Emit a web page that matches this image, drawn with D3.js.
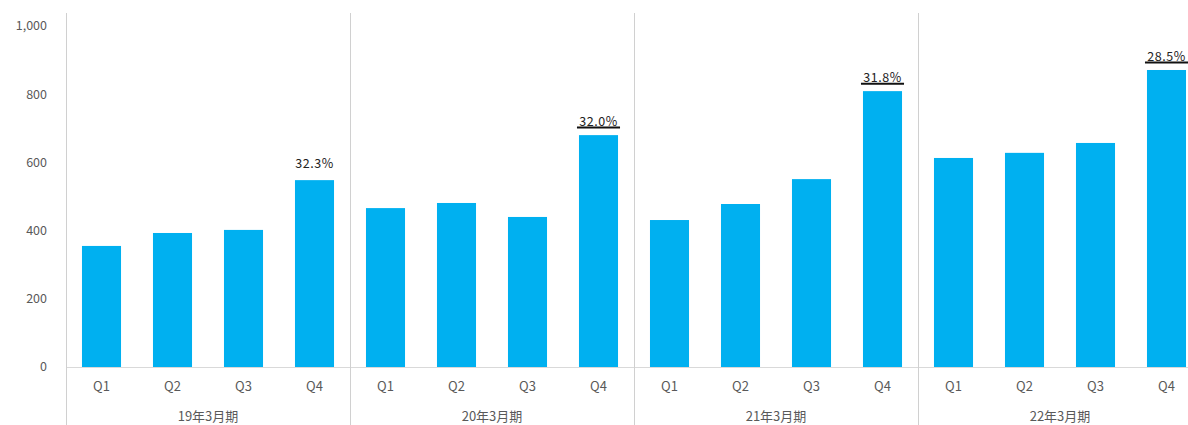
<!DOCTYPE html>
<html>
<head>
<meta charset="utf-8">
<script src="https://cdn.jsdelivr.net/npm/d3@7"></script>
<style>
  body { margin: 0; background: #fff; }
  svg { display: block; font-family: "Noto Sans CJK JP", "Noto Sans", sans-serif; }
</style>
</head>
<body>
<div id="chart"></div>
<script>
// fiscal periods and quarters
const periods = ['19年3月期', '20年3月期', '21年3月期', '22年3月期'];
const quarters = ['Q1', 'Q2', 'Q3', 'Q4'];
// quarterly values, one array per period
const fy19 = [355, 393, 402, 548];
const fy20 = [466, 481, 440, 680];
const fy21 = [431, 478, 551, 809];
const fy22 = [613, 628, 657, 871];
// ratio shown above each Q4 bar
const q4Labels = ['32.3%', '32.0%', '31.8%', '28.5%'];
const q4Underline = [false, true, true, true];
const yTicks = [0, 200, 400, 600, 800, 1000];

const seriesByPeriod = [fy19, fy20, fy21, fy22];

const width = 1188, height = 425;
const plotLeft = 66, plotRight = 1202, plotTop = 13, zeroY = 367;

const svg = d3.select('#chart').append('svg')
    .attr('width', width)
    .attr('height', height);

const x0 = d3.scaleBand().domain(periods).range([plotLeft, plotRight]);
const x1 = d3.scaleBand().domain(quarters).range([0, x0.bandwidth()]).paddingInner(0.45).paddingOuter(0.225);
const y = d3.scaleLinear().domain([0, 1000]).range([zeroY, 26]);

// y axis labels
svg.append('g')
    .selectAll('text')
    .data(yTicks)
    .enter().append('text')
    .attr('x', 47)
    .attr('y', d => y(d))
    .attr('dy', '0.35em')
    .attr('text-anchor', 'end')
    .attr('font-size', 12.5)
    .attr('fill', '#595959')
    .text(d => d3.format(',')(d));

// baseline
svg.append('line')
    .attr('x1', plotLeft).attr('x2', width)
    .attr('y1', zeroY + 0.5).attr('y2', zeroY + 0.5)
    .attr('stroke', '#d9d9d9');

// vertical separators
svg.append('g')
    .selectAll('line')
    .data(periods)
    .enter().append('line')
    .attr('x1', d => Math.round(x0(d)) + 0.5)
    .attr('x2', d => Math.round(x0(d)) + 0.5)
    .attr('y1', plotTop)
    .attr('y2', height)
    .attr('stroke', '#d0d0d0');

const groups = svg.append('g')
    .selectAll('g')
    .data(periods)
    .enter().append('g')
    .attr('transform', d => `translate(${x0(d)},0)`);

groups.selectAll('rect')
    .data((d, i) => seriesByPeriod[i].map((v, j) => ({ q: quarters[j], v: v })))
    .enter().append('rect')
    .attr('x', d => x1(d.q))
    .attr('width', x1.bandwidth())
    .attr('y', d => y(d.v))
    .attr('height', d => zeroY - y(d.v))
    .attr('fill', '#00b0f0');

// quarter labels
groups.selectAll('text.q')
    .data(quarters)
    .enter().append('text')
    .attr('class', 'q')
    .attr('x', d => x1(d) + x1.bandwidth() / 2)
    .attr('y', 386)
    .attr('dy', '0.35em')
    .attr('text-anchor', 'middle')
    .attr('font-size', 13)
    .attr('fill', '#595959')
    .text(d => d);

// period labels
groups.append('text')
    .attr('x', x0.bandwidth() / 2)
    .attr('y', 416)
    .attr('dy', '0.35em')
    .attr('text-anchor', 'middle')
    .attr('font-size', 13)
    .attr('fill', '#595959')
    .text(d => d);

// Q4 ratio labels
groups.each(function(d, i) {
    const g = d3.select(this);
    const v = seriesByPeriod[i][3];
    const cx = x1('Q4') + x1.bandwidth() / 2;
    const ty = y(v) - (q4Underline[i] ? 9 : 12);
    g.append('text')
        .attr('x', cx)
        .attr('y', ty)
        .attr('text-anchor', 'middle')
        .attr('font-size', 12.5)
        .attr('letter-spacing', 0.5)
        .attr('fill', '#222')
        .text(q4Labels[i]);
    if (q4Underline[i]) {
        g.append('line')
            .attr('x1', x1('Q4') - 2)
            .attr('x2', x1('Q4') + x1.bandwidth() + 2)
            .attr('y1', ty + 1.5)
            .attr('y2', ty + 1.5)
            .attr('stroke', '#111')
            .attr('stroke-width', 2);
    }
});
</script>
</body>
</html>
